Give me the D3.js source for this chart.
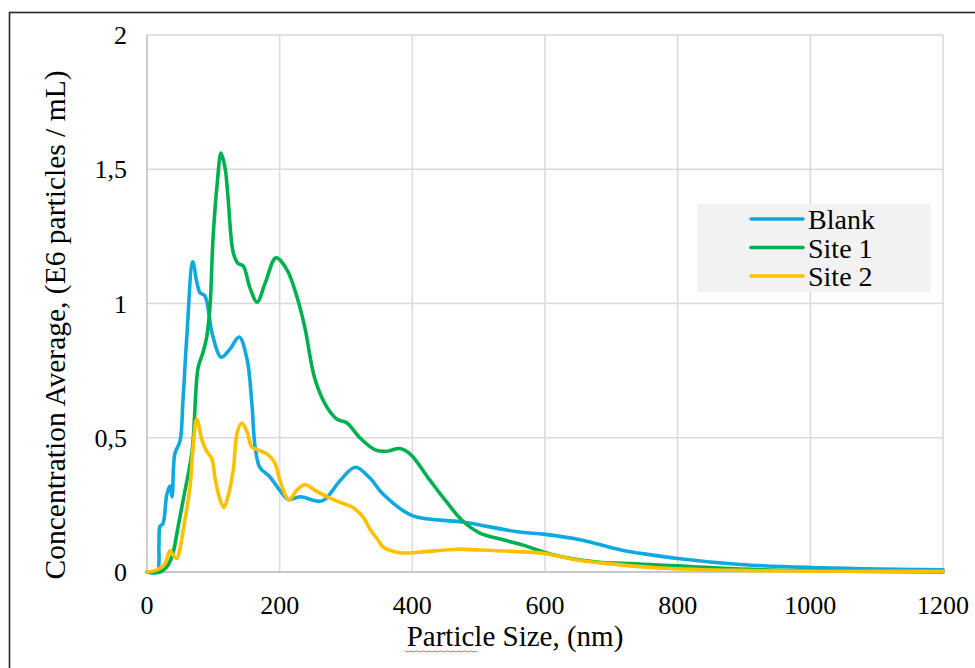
<!DOCTYPE html>
<html>
<head>
<meta charset="utf-8">
<script src="https://cdn.jsdelivr.net/npm/d3@7"></script>
<style>
  html, body { margin: 0; padding: 0; background: #fff; }
  svg { display: block; }
  text { font-family: "Liberation Serif", "Times New Roman", serif; fill: #000; }
</style>
</head>
<body>
<svg id="chart" width="975" height="668"></svg>
<script>
// ---------- Data (particle size nm, concentration E6 particles/mL) ----------
const xTicks = [0, 200, 400, 600, 800, 1000, 1200];
const yTicks = [0, 0.5, 1, 1.5, 2];
const yTickLabels = ["0", "0,5", "1", "1,5", "2"];
const seriesNames = ["Blank", "Site 1", "Site 2"];
const seriesColors = ["#0FA9E0", "#00B050", "#FFC000"];

const blankX = [0, 15, 18, 19.6, 24, 30, 34.7, 37.7, 42, 50, 54, 60, 69, 75, 80, 87, 99, 112, 125, 139, 151, 158, 163, 170, 185, 200, 213, 231, 264, 291, 314, 336, 356, 400, 476, 558, 600, 653, 718, 743, 800, 894, 1000, 1200];
const blankY = [0, 0, 0.1, 0.17, 0.18, 0.29, 0.32, 0.28, 0.44, 0.49, 0.63, 0.875, 1.155, 1.08, 1.04, 1.03, 0.88, 0.8, 0.83, 0.875, 0.79, 0.63, 0.465, 0.39, 0.355, 0.305, 0.27, 0.28, 0.265, 0.34, 0.39, 0.35, 0.29, 0.21, 0.186, 0.15, 0.14, 0.12, 0.08, 0.07, 0.05, 0.028, 0.017, 0.008];

const site1X = [0, 20, 30, 38, 47, 57, 68, 77, 84, 90, 95, 99.5, 106, 111.6, 118, 122, 130, 137, 145, 155, 166, 178, 194.5, 211, 226, 238, 253, 271, 286, 301.5, 321, 344, 362, 381, 396.5, 427, 452, 476, 502, 537, 567, 597, 627, 678, 743, 894, 1000, 1200];
const site1Y = [0, 0, 0.02, 0.06, 0.17, 0.3, 0.45, 0.76, 0.815, 0.875, 0.99, 1.24, 1.45, 1.56, 1.5, 1.4, 1.19, 1.15, 1.14, 1.06, 1.005, 1.075, 1.17, 1.125, 1.025, 0.91, 0.72, 0.615, 0.57, 0.555, 0.5, 0.455, 0.45, 0.46, 0.44, 0.34, 0.26, 0.19, 0.145, 0.12, 0.1, 0.075, 0.056, 0.037, 0.03, 0.011, 0.005, 0.0];

const site2X = [0, 12, 19.6, 27, 34.7, 39, 45, 50, 57, 65, 69, 75, 83, 90, 98, 102.5, 110, 116, 122, 130, 136, 143, 151, 158, 167, 181, 193, 200.5, 214, 226, 238, 256, 276, 295.5, 310.6, 325.6, 336, 348, 356, 381, 416, 467, 502, 567, 597, 648, 687, 773, 894, 1200];
const site2Y = [0, 0.005, 0.015, 0.03, 0.08, 0.065, 0.05, 0.09, 0.19, 0.32, 0.45, 0.57, 0.49, 0.45, 0.42, 0.35, 0.27, 0.24, 0.28, 0.38, 0.52, 0.555, 0.52, 0.465, 0.455, 0.44, 0.405, 0.34, 0.27, 0.305, 0.325, 0.3, 0.275, 0.255, 0.24, 0.205, 0.16, 0.12, 0.093, 0.072, 0.075, 0.085, 0.082, 0.075, 0.07, 0.045, 0.033, 0.015, 0.006, 0.003];

const xTitle = "Particle Size, (nm)";
const yTitle = "Concentration Average, (E6 particles / mL)";

// ---------- Layout ----------
const svg = d3.select("#chart");
const plot = { left: 147, right: 943, top: 35, bottom: 572 };

const x = d3.scaleLinear().domain([0, 1200]).range([plot.left, plot.right]);
const y = d3.scaleLinear().domain([0, 2]).range([plot.bottom, plot.top]);

// outer chart border (left & top visible)
svg.append("rect")
  .attr("x", 9.5).attr("y", 12.5)
  .attr("width", 1000).attr("height", 700)
  .attr("fill", "none").attr("stroke", "#262626").attr("stroke-width", 1.6);

// gridlines
svg.append("g").selectAll("line.v").data(xTicks.slice(1)).join("line")
  .attr("x1", d => x(d)).attr("x2", d => x(d))
  .attr("y1", plot.top).attr("y2", plot.bottom)
  .attr("stroke", "#d9d9d9").attr("stroke-width", 1.5);
svg.append("g").selectAll("line.h").data(yTicks.slice(1)).join("line")
  .attr("x1", plot.left).attr("x2", plot.right)
  .attr("y1", d => y(d)).attr("y2", d => y(d))
  .attr("stroke", "#d9d9d9").attr("stroke-width", 1.5);

// axis lines
svg.append("line").attr("x1", plot.left).attr("x2", plot.left)
  .attr("y1", plot.top).attr("y2", plot.bottom)
  .attr("stroke", "#c8c8c8").attr("stroke-width", 1.8);
svg.append("line").attr("x1", plot.left).attr("x2", plot.right)
  .attr("y1", plot.bottom).attr("y2", plot.bottom)
  .attr("stroke", "#c8c8c8").attr("stroke-width", 1.8);

// tick labels
svg.append("g").selectAll("text").data(xTicks).join("text")
  .attr("x", d => x(d)).attr("y", 614)
  .attr("text-anchor", "middle").attr("font-size", 26)
  .text(d => d);
svg.append("g").selectAll("text").data(yTicks).join("text")
  .attr("x", 127).attr("y", d => y(d) + 9)
  .attr("text-anchor", "end").attr("font-size", 26)
  .text((d, i) => yTickLabels[i]);

// axis titles
svg.append("text")
  .attr("x", 515).attr("y", 646)
  .attr("text-anchor", "middle").attr("font-size", 29)
  .text(xTitle);
// spell-check style underline under "Particle"
svg.append("path")
  .attr("d", d3.range(405, 479, 3).map((px, i) => (i ? "L" : "M") + px + "," + (651 + (i % 2 ? 1 : 0))).join(""))
  .attr("fill", "none").attr("stroke", "#e05a5a").attr("stroke-width", 0.9);

svg.append("text")
  .attr("transform", "translate(65,325) rotate(-90)")
  .attr("text-anchor", "middle").attr("font-size", 29.5)
  .text(yTitle);

// series lines
const series = [
  { name: seriesNames[0], color: seriesColors[0], xs: blankX, ys: blankY },
  { name: seriesNames[1], color: seriesColors[1], xs: site1X, ys: site1Y },
  { name: seriesNames[2], color: seriesColors[2], xs: site2X, ys: site2Y }
];

const line = d3.line()
  .x(d => x(d[0])).y(d => y(d[1]))
  .curve(d3.curveCatmullRom.alpha(0.5));

svg.append("defs").append("clipPath").attr("id", "clip")
  .append("rect").attr("x", plot.left - 2).attr("y", plot.top - 10)
  .attr("width", plot.right - plot.left + 4).attr("height", plot.bottom - plot.top + 14);

svg.append("g").attr("clip-path", "url(#clip)")
  .selectAll("path").data(series).join("path")
  .attr("d", s => line(s.xs.map((v, i) => [v, s.ys[i]])))
  .attr("fill", "none")
  .attr("stroke", s => s.color)
  .attr("stroke-width", 3.6)
  .attr("stroke-linejoin", "round")
  .attr("stroke-linecap", "round");

// legend
const lg = svg.append("g");
lg.append("rect").attr("x", 697).attr("y", 204).attr("width", 234).attr("height", 88)
  .attr("fill", "#f2f2f2");
const items = lg.selectAll("g").data(series).join("g")
  .attr("transform", (d, i) => `translate(0, ${219 + i * 28.5})`);
items.append("line").attr("x1", 751).attr("x2", 803).attr("y1", 0).attr("y2", 0)
  .attr("stroke", d => d.color).attr("stroke-width", 3.6).attr("stroke-linecap", "round");
items.append("text").attr("x", 808).attr("y", 10).attr("font-size", 28)
  .text(d => d.name);
</script>
</body>
</html>
